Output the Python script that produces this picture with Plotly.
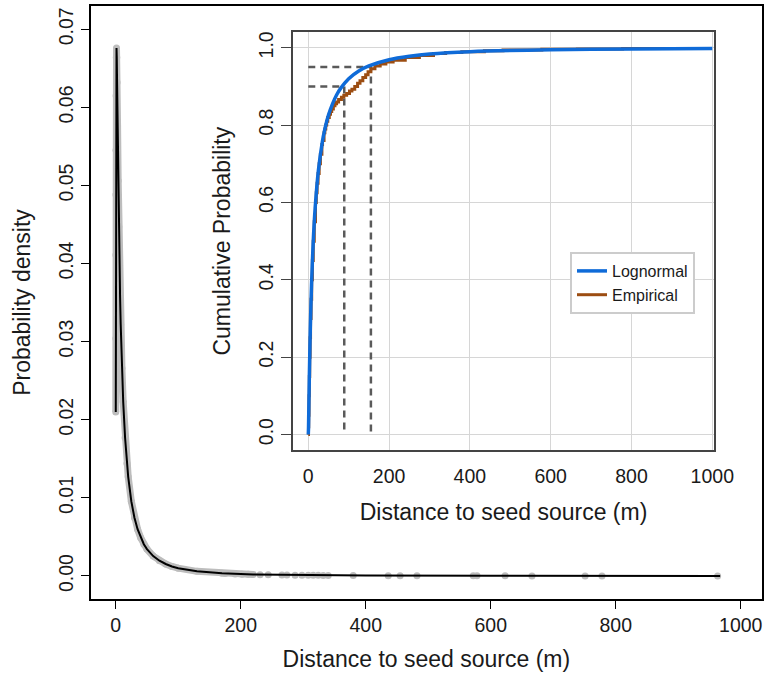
import plotly.graph_objects as go

# ---------------- data ----------------
# fitted lognormal density curve (main panel)
density_x = [0.13, 0.2, 0.3, 0.4, 0.5, 0.7, 1.0, 1.3, 1.7, 2.2, 3, 4, 5, 6, 7, 8, 10, 12, 15, 18,
             20, 25, 30, 35, 40, 45, 50, 60, 70, 80, 90, 100, 130, 170, 220, 300, 400, 600, 800, 967]
density_y = [0.0210, 0.0304, 0.0411, 0.0488, 0.0545, 0.0615, 0.0664, 0.0676, 0.0664, 0.0632, 0.0576,
             0.0506, 0.0447, 0.0398, 0.0357, 0.0322, 0.0266, 0.0223, 0.0177, 0.0144, 0.0127, 0.00955,
             0.00745, 0.00598, 0.00490, 0.00407, 0.00344, 0.00254, 0.00195, 0.00153, 0.00122, 0.00100,
             0.00059, 0.00034, 0.00019, 0.000091, 0.000044, 0.000015, 0.0000068, 0.0000039]

# sparse observed distances in the tail (grey points)
tail_x = [175, 191, 202, 212, 231, 244, 266, 274, 287, 298, 308, 316, 324, 332, 340, 380, 436,
          455, 482, 572, 578, 623, 666, 751, 778, 963]
tail_y = [0.00031, 0.00026, 0.00023, 0.00021, 0.00017, 0.00015, 0.00012, 0.00011, 0.00010,
          0.000093, 0.000086, 0.000080, 0.000076, 0.000071, 0.000067, 0.000050, 0.000036,
          0.000033, 0.000028, 0.000017, 0.000016, 0.000013, 0.000011, 0.0000083, 0.0000075, 0.000004]

# inset: lognormal CDF
cdf_x = [0, 0.5, 1, 2, 3, 5, 8, 12, 17, 25, 35, 40, 50, 60, 70, 80, 100, 125, 150, 200, 250,
         300, 400, 600, 800, 1000]
cdf_y = [0, 0.016, 0.047, 0.113, 0.174, 0.274, 0.387, 0.494, 0.586, 0.683, 0.758, 0.785, 0.826,
         0.855, 0.878, 0.895, 0.920, 0.940, 0.953, 0.969, 0.978, 0.984, 0.990, 0.995, 0.997, 0.998]

# inset: empirical CDF (step)
emp_x = [0, 0.57, 1.05, 1.8, 2.6, 3.5, 4.5, 5.6, 6.9, 8.4, 10.2, 12.3, 14.8, 17.9, 19.8, 21.8,
         24.2, 26.9, 30.0, 33.7, 35.3, 39.0, 41.0, 43.3, 45.6, 48.3, 52, 55, 58, 62, 66, 70, 75,
         82, 88, 95, 102, 108, 115, 122, 128, 135, 142, 148, 155, 165, 178, 192, 210, 240, 275,
         310, 340, 380, 436, 482, 578, 666, 778, 967]
emp_y = [0.0, 0.02, 0.05, 0.10, 0.15, 0.20, 0.25, 0.30, 0.35, 0.40, 0.45, 0.50, 0.55, 0.60,
         0.625, 0.65, 0.675, 0.70, 0.725, 0.75, 0.76, 0.78, 0.79, 0.80, 0.81, 0.82, 0.828, 0.835,
         0.842, 0.85, 0.855, 0.86, 0.866, 0.872, 0.877, 0.882, 0.888, 0.893, 0.90, 0.908, 0.915,
         0.923, 0.93, 0.938, 0.946, 0.953, 0.958, 0.963, 0.968, 0.975, 0.98, 0.985, 0.988, 0.99,
         0.992, 0.994, 0.996, 0.997, 0.998, 1.0]

# quantile guide lines (90% and 95%)
quant_p = [0.90, 0.95]
quant_d = [89, 155]

main_xticks = [0, 200, 400, 600, 800, 1000]
main_yticks = [0.00, 0.01, 0.02, 0.03, 0.04, 0.05, 0.06, 0.07]
inset_xticks = [0, 200, 400, 600, 800, 1000]
inset_yticks = [0.0, 0.2, 0.4, 0.6, 0.8, 1.0]

FONT = "Liberation Sans, Arial, Helvetica, sans-serif"
TXT = "#1a1a1a"
BLUE = "#0f6bd8"
BROWN = "#9c4d12"
GREY = "#bdbdbd"
TICK = 19.5
TITLE = 23

fig = go.Figure()

# ---------------- main panel ----------------
band_x = [x for x in density_x if x <= 220]
band_y = density_y[:len(band_x)]
fig.add_trace(go.Scatter(x=band_x, y=band_y, mode="lines+markers",
                         line=dict(color=GREY, width=7),
                         marker=dict(color=GREY, size=7),
                         showlegend=False, hoverinfo="skip", xaxis="x", yaxis="y"))
fig.add_trace(go.Scatter(x=tail_x, y=tail_y, mode="markers",
                         marker=dict(color=GREY, size=7),
                         showlegend=False, xaxis="x", yaxis="y"))
fig.add_trace(go.Scatter(x=density_x, y=density_y, mode="lines",
                         line=dict(color="black", width=2),
                         showlegend=False, xaxis="x", yaxis="y"))

# ---------------- inset ----------------
qx, qy = [], []
for p, d in zip(quant_p, quant_d):
    qx += [0, d, d, None]
    qy += [p, p, 0, None]
fig.add_trace(go.Scatter(x=qx, y=qy, mode="lines",
                         line=dict(color="#5a5a5a", width=2.5, dash="7px,5px"),
                         showlegend=False, hoverinfo="skip", xaxis="x2", yaxis="y2"))
fig.add_trace(go.Scatter(x=emp_x, y=emp_y, mode="lines", name="Empirical",
                         line=dict(color=BROWN, width=3, shape="hv"), legendrank=2,
                         xaxis="x2", yaxis="y2"))
fig.add_trace(go.Scatter(x=cdf_x, y=cdf_y, mode="lines", name="Lognormal",
                         line=dict(color=BLUE, width=3.5, shape="spline", smoothing=0.8),
                         legendrank=1, xaxis="x2", yaxis="y2"))

W, H = 768, 676
def px_x(a, b):
    return [a / W, b / W]
def px_y(top, bottom):
    return [1 - bottom / H, 1 - top / H]

fig.update_layout(
    template="none",
    width=W, height=H,
    margin=dict(l=0, r=0, t=0, b=0),
    paper_bgcolor="white", plot_bgcolor="white",
    font=dict(family=FONT, color=TXT, size=TICK),
    xaxis=dict(domain=px_x(90.7, 762), anchor="y", range=[-40, 1034],
               tickvals=main_xticks, ticks="outside", ticklen=8, tickwidth=1.3,
               tickcolor="black", showline=True, linecolor="black", linewidth=1.5,
               mirror=True, showgrid=False, zeroline=False, automargin=False,
               tickfont=dict(size=TICK),
               title=dict(text="Distance to seed source (m)", font=dict(size=TITLE), standoff=16)),
    yaxis=dict(domain=px_y(6, 599), anchor="x", range=[-0.00295, 0.07298],
               tickvals=main_yticks, tickformat=".2f", tickangle=-90,
               ticks="outside", ticklen=8, tickwidth=1.3, tickcolor="black",
               showline=True, linecolor="black", linewidth=1.5, mirror=True,
               showgrid=False, zeroline=False, automargin=False,
               tickfont=dict(size=TICK),
               title=dict(text="Probability density", font=dict(size=TITLE), standoff=18)),
    xaxis2=dict(domain=px_x(292.7, 714.3), anchor="y2", range=[-38.6, 1005],
                tickvals=inset_xticks, ticks="", showline=True, linecolor="#444444",
                linewidth=1.5, mirror=True, showgrid=True, gridcolor="#d6d6d6",
                gridwidth=1, zeroline=False, automargin=False, ticklabelstandoff=8,
                tickfont=dict(size=TICK),
                title=dict(text="Distance to seed source (m)", font=dict(size=TITLE), standoff=18)),
    yaxis2=dict(domain=px_y(32.3, 450), anchor="x2", range=[-0.04, 1.04],
                tickvals=inset_yticks, tickformat=".1f", tickangle=-90,
                ticks="outside", ticklen=10, tickwidth=1.3, tickcolor="#444444",
                showline=True, linecolor="#444444", linewidth=1.5, mirror=True,
                showgrid=True, gridcolor="#d6d6d6", gridwidth=1, zeroline=False,
                automargin=False, tickfont=dict(size=TICK),
                title=dict(text="Cumulative Probability", font=dict(size=TITLE), standoff=18)),
    legend=dict(x=570 / W, y=1 - 252 / H, xanchor="left", yanchor="top",
                bgcolor="white", bordercolor="#cccccc", borderwidth=2,
                font=dict(size=16, color=TXT), traceorder="normal"),
    showlegend=True,
)

fig.write_html("out.html",
               config={"displayModeBar": False},
               post_script="document.body.style.margin='0';document.body.style.overflow='hidden';")
